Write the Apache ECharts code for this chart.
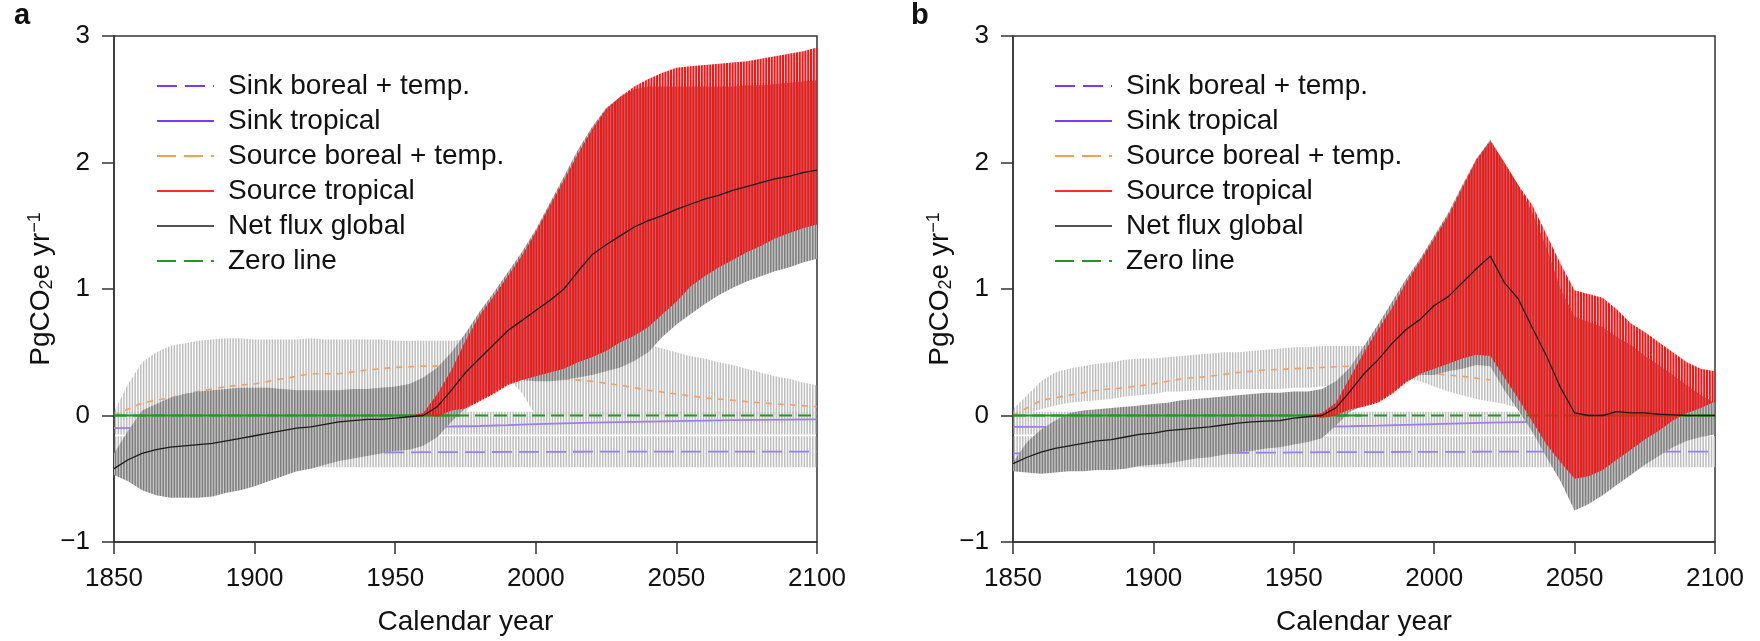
<!DOCTYPE html>
<html><head><meta charset="utf-8">
<script src="https://cdn.jsdelivr.net/npm/echarts@6/dist/echarts.min.js"></script>
<style>html,body{margin:0;padding:0;background:#fff}#c{width:1760px;height:641px}</style>
</head><body><div id="c"></div>
<script>
// ---------- DATA ----------
const yrs5 = [1850,1855,1860,1865,1870,1875,1880,1885,1890,1895,1900,1905,1910,1915,1920,1925,1930,1935,1940,1945,1950,1955,1960,1965,1970,1975,1980,1985,1990,1995,2000,2005,2010,2015,2020,2025,2030,2035,2040,2045,2050,2055,2060,2065,2070,2075,2080,2085,2090,2095,2100];
const yrs10 = [1850,1860,1870,1880,1890,1900,1910,1920,1930,1940,1950,1960,1970,1980,1990,2000,2010,2020,2030,2040,2050,2060,2070,2080,2090,2100];
const yrsFlat = [1850,2100];
const xTicks = [1850,1900,1950,2000,2050,2100];
const yTicks = [-1,0,1,2,3];

// Panel a
const netA = [-0.42,-0.35,-0.30,-0.27,-0.25,-0.24,-0.23,-0.22,-0.20,-0.18,
 -0.16,-0.14,-0.12,-0.10,-0.09,-0.07,-0.05,-0.04,-0.03,-0.03,
 -0.02,-0.01,0.00,0.07,0.20,0.34,0.45,0.56,0.67,0.75,
 0.83,0.91,1.00,1.14,1.27,1.35,1.42,1.49,1.54,1.58,
 1.63,1.67,1.71,1.74,1.78,1.81,1.84,1.87,1.89,1.92,1.94];
const dgHiA = [-0.30,-0.12,0.04,0.09,0.14,0.17,0.19,0.20,0.21,0.22,
 0.22,0.22,0.21,0.20,0.20,0.20,0.20,0.21,0.21,0.22,
 0.23,0.25,0.30,0.38,0.50,0.65,0.82,0.97,1.13,1.29,
 1.47,1.68,1.89,2.10,2.28,2.43,2.52,2.58,2.60,2.60,
 2.60,2.60,2.60,2.60,2.60,2.61,2.61,2.62,2.63,2.64,2.65];
const dgLoA = [-0.47,-0.52,-0.59,-0.63,-0.65,-0.65,-0.65,-0.64,-0.61,-0.59,
 -0.56,-0.52,-0.48,-0.44,-0.42,-0.39,-0.36,-0.34,-0.32,-0.30,
 -0.28,-0.27,-0.24,-0.17,-0.05,0.06,0.12,0.18,0.25,0.28,
 0.27,0.27,0.28,0.30,0.32,0.35,0.38,0.43,0.50,0.62,
 0.72,0.80,0.88,0.95,1.01,1.06,1.10,1.14,1.17,1.21,1.24];
const redHiA = [0,0,0,0,0,0,0,0,0,0,
 0,0,0,0,0,0,0,0,0,0,
 0,0,0.02,0.17,0.36,0.59,0.79,0.94,1.10,1.26,
 1.45,1.66,1.86,2.07,2.26,2.42,2.52,2.60,2.66,2.71,
 2.75,2.76,2.77,2.78,2.79,2.80,2.82,2.84,2.86,2.88,2.91];
const redLoA = [0,0,0,0,0,0,0,0,0,0,
 0,0,0,0,0,0,0,0,0,0,
 0,0,0.00,-0.01,0.04,0.055,0.11,0.17,0.24,0.28,
 0.31,0.34,0.37,0.42,0.46,0.51,0.58,0.63,0.70,0.80,
 0.90,1.02,1.10,1.17,1.23,1.29,1.34,1.40,1.44,1.48,1.51];
const lgSrcHiA = [0.03,0.25,0.42,0.50,0.55,0.57,0.59,0.60,0.61,0.61,
 0.60,0.60,0.60,0.60,0.61,0.60,0.60,0.60,0.60,0.60,
 0.59,0.59,0.59,0.59,0.59,0.60,0.60,0.60,0.60,0.60,
 0.60,0.60,0.60,0.60,0.60,0.60,0.59,0.58,0.56,0.53,
 0.50,0.47,0.45,0.42,0.40,0.37,0.34,0.31,0.29,0.26,0.24];
const lgSrcLoA = [0,0,0,0,0,0,0,0,0,0,
 0,0,0,0,0,0,0,0,0,0,
 0,0,0,0,0,0,0.30,0.30,0.30,0.18,
 0,0,0,0,0,0,0,0,0,0,
 0,0,0,0,0,0,0,0,0,0,0];
const srcBorA = [0.00,0.10,0.14,0.19,0.23,0.25,0.29,0.33,0.33,0.36,0.38,0.39,0.39,0.38,0.35,0.31,0.29,0.27,0.24,0.20,0.17,0.14,0.12,0.10,0.085,0.07];
const sinkTropA = [-0.100,-0.098,-0.096,-0.095,-0.095,-0.094,-0.093,-0.092,-0.091,-0.090,-0.090,-0.089,-0.087,-0.083,-0.076,-0.068,-0.062,-0.057,-0.052,-0.048,-0.044,-0.040,-0.037,-0.034,-0.032,-0.030];
const sinkBorA = [-0.31,-0.305,-0.302,-0.30,-0.30,-0.30,-0.298,-0.296,-0.295,-0.294,-0.292,-0.29,-0.29,-0.289,-0.288,-0.287,-0.287,-0.286,-0.286,-0.285,-0.285,-0.285,-0.285,-0.285,-0.285,-0.285];

// Panel b
const netB = [-0.38,-0.33,-0.29,-0.26,-0.24,-0.22,-0.20,-0.19,-0.17,-0.15,
 -0.14,-0.12,-0.11,-0.10,-0.09,-0.075,-0.06,-0.05,-0.045,-0.04,
 -0.02,-0.01,0.00,0.06,0.19,0.33,0.44,0.57,0.68,0.76,
 0.87,0.94,1.05,1.16,1.26,1.05,0.92,0.69,0.47,0.22,
 0.02,0.00,0.00,0.03,0.02,0.02,0.01,0.005,0.00,0.00,0.00];
const dgHiB = [-0.37,-0.21,-0.11,-0.04,0.02,0.04,0.05,0.06,0.07,0.08,
 0.09,0.10,0.12,0.13,0.14,0.15,0.16,0.17,0.18,0.18,
 0.19,0.19,0.21,0.27,0.38,0.55,0.72,0.90,1.08,1.24,
 1.42,1.60,1.82,2.03,2.18,2.00,1.82,1.60,1.33,1.00,
 0.78,0.74,0.70,0.62,0.56,0.47,0.40,0.32,0.24,0.16,0.10];
const dgLoB = [-0.44,-0.45,-0.46,-0.45,-0.44,-0.44,-0.43,-0.43,-0.42,-0.40,
 -0.39,-0.38,-0.36,-0.34,-0.33,-0.31,-0.29,-0.28,-0.26,-0.25,
 -0.23,-0.21,-0.18,-0.08,0.03,0.08,0.11,0.18,0.27,0.32,
 0.32,0.35,0.37,0.40,0.39,0.20,0.04,-0.13,-0.33,-0.52,
 -0.75,-0.70,-0.63,-0.55,-0.47,-0.39,-0.32,-0.25,-0.20,-0.17,-0.15];
const redHiB = [0,0,0,0,0,0,0,0,0,0,
 0,0,0,0,0,0,0,0,0,0,
 0,0,0.02,0.10,0.30,0.50,0.68,0.85,1.05,1.22,
 1.40,1.58,1.80,2.02,2.17,2.00,1.82,1.66,1.43,1.20,
 0.99,0.96,0.93,0.84,0.73,0.66,0.58,0.50,0.42,0.37,0.35];
const redLoB = [0,0,0,0,0,0,0,0,0,0,
 0,0,0,0,0,0,0,0,0,0,
 0,0,-0.02,0.00,0.05,0.07,0.10,0.17,0.26,0.33,
 0.37,0.41,0.45,0.48,0.47,0.30,0.13,-0.05,-0.23,-0.37,
 -0.50,-0.48,-0.43,-0.35,-0.27,-0.19,-0.12,-0.04,0.02,0.06,0.11];
const lgSrcHiB = [0.05,0.16,0.27,0.34,0.37,0.39,0.41,0.42,0.44,0.45,
 0.45,0.46,0.47,0.48,0.49,0.50,0.50,0.51,0.52,0.53,
 0.54,0.54,0.55,0.55,0.55,0.55,0.55,0.55,0.55,0.55,
 0.55,0.53,0.50,0.48,0.45,0.35,0.20,0.08,0.05,0.05,
 0.05,0.05,0.05,0.05,0.05,0.05,0.05,0.05,0.05,0.05,0.05];
const lgSrcLoB = [0.00,0.02,0.05,0.08,0.10,0.11,0.12,0.13,0.15,0.16,
 0.17,0.19,0.19,0.20,0.20,0.20,0.21,0.21,0.21,0.21,
 0.22,0.22,0.23,0.24,0.25,0.27,0.28,0.30,0.30,0.27,
 0.23,0.19,0.16,0.13,0.11,0.09,0.06,0.05,0.05,0.05,
 0.05,0.05,0.05,0.05,0.05,0.05,0.05,0.05,0.05,0.05,0.05];
const srcBorB = [0.00,0.12,0.16,0.20,0.22,0.25,0.29,0.31,0.34,0.36,0.37,0.38,0.39,0.38,0.36,0.33,0.31,0.28,null,null,null,null,null,null,null,null];
const sinkTropB = [-0.090,-0.090,-0.090,-0.090,-0.090,-0.090,-0.090,-0.089,-0.089,-0.088,-0.088,-0.087,-0.085,-0.080,-0.074,-0.068,-0.062,-0.057,-0.052,-0.048,-0.044,-0.040,-0.037,-0.034,-0.032,-0.030];
const sinkBorB = [-0.30,-0.30,-0.30,-0.30,-0.30,-0.30,-0.298,-0.296,-0.295,-0.294,-0.292,-0.29,-0.29,-0.289,-0.288,-0.287,-0.287,-0.286,-0.286,-0.285,-0.285,-0.285,-0.285,-0.285,-0.285,-0.285];

// sink uncertainty ranges (both panels)
const lgSinkTropLo = [-0.15,-0.15];
const lgSinkTropHi = [0.03,0.03];
const lgSinkBorLo = [-0.41,-0.41];
const lgSinkBorHi = [-0.165,-0.165];

// zero line
const zeroYears = [1850,2100];
const zeroSolidA = [[1850,1973]];
const zeroSolidB = [[1850,1974],[2050,2100]];

const legendNames = ['Sink boreal + temp.','Sink tropical','Source boreal + temp.','Source tropical','Net flux global','Zero line'];
const panelLabels = ['a','b'];
const yTitle = '{m|PgCO}{s|2}{m|e yr}{p|\u22121}';
const xTitle = 'Calendar year';

// ---------- STYLE ----------
const FONT = '"Liberation Sans", Arial, Helvetica, sans-serif';
const AX = '#333';
function stripe(bg, fg, off, w) {
  const c = document.createElement('canvas'); c.width = 14; c.height = 4;
  const g = c.getContext('2d');
  if (bg) { g.fillStyle = bg; g.fillRect(0, 0, 14, 4); }
  g.fillStyle = fg;
  for (let k = -1; k < 6; k++) g.fillRect(k * 2.8 + off, 0, w, 4);
  return { image: c, repeat: 'repeat' };
}
const FILL_LG = stripe(null, '#bdbdbd', 0, 1.5);
const FILL_DG = stripe('#c6c6c6', '#7e7e7e', 0, 1.5);
const FILL_RED = stripe(null, '#ff1111', 0.8, 2.0);

const C_PURPLE = '#9a7ef2', C_PURPLE_LEG = '#7a3cf2';
const C_ORANGE = '#f2a063', C_ORANGE_LEG = '#f5a050';
const C_RED = '#ff2a2a', C_GREEN = '#1f9a1f', C_BLACK = '#1a1a1a';

function band(gi, yrs, lo, hi, fill, z) {
  return {
    type: 'custom', name: 'band', xAxisIndex: gi, yAxisIndex: gi, z: z, clip: true, silent: true,
    data: yrs.map((y, i) => [y, lo[i], hi[i]]),
    encode: { x: 0, y: [1, 2] },
    renderItem: function (params, api) {
      if (params.dataIndex !== 0) return null;
      const pts = [];
      for (let i = 0; i < yrs.length; i++) pts.push(api.coord([yrs[i], hi[i]]));
      for (let i = yrs.length - 1; i >= 0; i--) pts.push(api.coord([yrs[i], lo[i]]));
      return { type: 'polygon', shape: { points: pts }, style: { fill: fill } };
    }
  };
}
function line(gi, name, yrs, vals, color, width, type, z) {
  return {
    type: 'line', name: name, xAxisIndex: gi, yAxisIndex: gi, z: z, symbol: 'none', silent: true,
    data: yrs.map((y, i) => [y, vals[i]]), connectNulls: false, animation: false,
    lineStyle: { color: color, width: width, type: type }, itemStyle: { color: color }
  };
}
function zeroSolid(gi, spans) {
  const d = [];
  spans.forEach(s => { d.push([s[0], 0], [s[1], 0], [s[1], null]); });
  return { type: 'line', name: 'zeroSolid', xAxisIndex: gi, yAxisIndex: gi, z: 5, symbol: 'none', silent: true,
    data: d, lineStyle: { color: C_GREEN, width: 1.8 } };
}

function panelSeries(gi, P) {
  return [
    band(gi, yrs5, P.lgSrcLo, P.lgSrcHi, FILL_LG, 1),
    band(gi, yrsFlat, lgSinkTropLo, lgSinkTropHi, FILL_LG, 1),
    band(gi, yrsFlat, lgSinkBorLo, lgSinkBorHi, FILL_LG, 1),
    line(gi, 'Source boreal + temp.', yrs10, P.srcBor, C_ORANGE, 1.6, [6, 6], 2),
    line(gi, 'Sink tropical', yrs10, P.sinkTrop, C_PURPLE, 1.8, 'solid', 2),
    line(gi, 'Sink boreal + temp.', yrs10, P.sinkBor, C_PURPLE, 1.8, [20, 7], 2),
    band(gi, yrs5, P.dgLo, P.dgHi, FILL_DG, 3),
    line(gi, 'Zero line', zeroYears, [0, 0], C_GREEN, 1.8, [13, 6], 5),
    zeroSolid(gi, P.zeroSolid),
    band(gi, yrs5, P.redLo, P.redHi, FILL_RED, 6),
    line(gi, 'Net flux global', yrs5, P.net, C_BLACK, 1.3, 'solid', 7),
    { type: 'line', name: 'Source tropical', xAxisIndex: gi, yAxisIndex: gi, data: [], symbol: 'none',
      lineStyle: { color: C_RED, width: 2 }, itemStyle: { color: C_RED } }
  ];
}

const PA = { lgSrcLo: lgSrcLoA, lgSrcHi: lgSrcHiA, srcBor: srcBorA, sinkTrop: sinkTropA, sinkBor: sinkBorA,
  dgLo: dgLoA, dgHi: dgHiA, redLo: redLoA, redHi: redHiA, net: netA, zeroSolid: zeroSolidA };
const PB = { lgSrcLo: lgSrcLoB, lgSrcHi: lgSrcHiB, srcBor: srcBorB, sinkTrop: sinkTropB, sinkBor: sinkBorB,
  dgLo: dgLoB, dgHi: dgHiB, redLo: redLoB, redHi: redHiB, net: netB, zeroSolid: zeroSolidB };

const legendItems = [
  { name: legendNames[0], lineStyle: { color: C_PURPLE_LEG, type: [20, 8], width: 2 } },
  { name: legendNames[1], lineStyle: { color: C_PURPLE_LEG, type: 'solid', width: 2 } },
  { name: legendNames[2], lineStyle: { color: C_ORANGE_LEG, type: [19, 8], width: 2 } },
  { name: legendNames[3], lineStyle: { color: C_RED, type: 'solid', width: 2 } },
  { name: legendNames[4], lineStyle: { color: C_BLACK, type: 'solid', width: 1.6 } },
  { name: legendNames[5], lineStyle: { color: C_GREEN, type: [19, 8], width: 2 } }
];
function legendCfg(left) {
  return { left: left, top: 71, orient: 'vertical', padding: 0, itemGap: 5, itemWidth: 57, itemHeight: 14,
    selectedMode: false, itemStyle: { opacity: 0 },
    textStyle: { fontFamily: FONT, fontSize: 28, lineHeight: 30, color: '#111', padding: [0, 0, 0, 9] },
    data: legendItems };
}
function xAx(gi) {
  return { type: 'value', gridIndex: gi, min: xTicks[0], max: xTicks[xTicks.length - 1], interval: xTicks[1] - xTicks[0],
    axisLine: { show: true, onZero: false, lineStyle: { color: AX, width: 1.5 } },
    axisTick: { show: true, inside: false, length: 12, lineStyle: { color: AX, width: 1.5 } },
    axisLabel: { fontFamily: FONT, fontSize: 26, lineHeight: 26, color: '#111', margin: 24,
      formatter: v => String(v) },
    splitLine: { show: false },
    name: xTitle, nameLocation: 'middle', nameGap: 66,
    nameTextStyle: { fontFamily: FONT, fontSize: 28, lineHeight: 28, color: '#111' } };
}
function yAx(gi) {
  return { type: 'value', gridIndex: gi, min: yTicks[0], max: yTicks[yTicks.length - 1], interval: yTicks[1] - yTicks[0],
    axisLine: { show: true, onZero: false, lineStyle: { color: AX, width: 1.5 } },
    axisTick: { show: true, inside: false, length: 12, lineStyle: { color: AX, width: 1.5 } },
    axisLabel: { fontFamily: FONT, fontSize: 26, color: '#111', margin: 24,
      formatter: v => (v < 0 ? '\u2212' + (-v) : String(v)) },
    splitLine: { show: false },
    name: yTitle, nameLocation: 'middle', nameRotate: 90, nameGap: 55,
    nameTextStyle: { color: '#111', rich: {
      m: { fontFamily: FONT, fontSize: 28, lineHeight: 30, verticalAlign: 'middle', color: '#111' },
      s: { fontFamily: FONT, fontSize: 18, lineHeight: 12, verticalAlign: 'bottom', color: '#111' },
      p: { fontFamily: FONT, fontSize: 18, lineHeight: 14, verticalAlign: 'top', color: '#111' } } } };
}

const chart = echarts.init(document.getElementById('c'), null, { renderer: 'canvas' });
chart.setOption({
  animation: false,
  backgroundColor: '#fff',
  title: [
    { text: panelLabels[0], left: 14, top: 1, padding: 0, textStyle: { fontFamily: FONT, fontSize: 29, fontWeight: 'bold', color: '#111' } },
    { text: panelLabels[1], left: 911, top: 1, padding: 0, textStyle: { fontFamily: FONT, fontSize: 29, fontWeight: 'bold', color: '#111' } }
  ],
  grid: [
    { left: 114, right: 943, top: 36, bottom: 97, show: true, borderColor: AX, borderWidth: 1.5, backgroundColor: 'transparent' },
    { left: 1013, right: 45, top: 36, bottom: 97, show: true, borderColor: AX, borderWidth: 1.5, backgroundColor: 'transparent' }
  ],
  legend: [legendCfg(156), legendCfg(1054)],
  xAxis: [xAx(0), xAx(1)],
  yAxis: [yAx(0), yAx(1)],
  series: panelSeries(0, PA).concat(panelSeries(1, PB))
});
</script></body></html>
